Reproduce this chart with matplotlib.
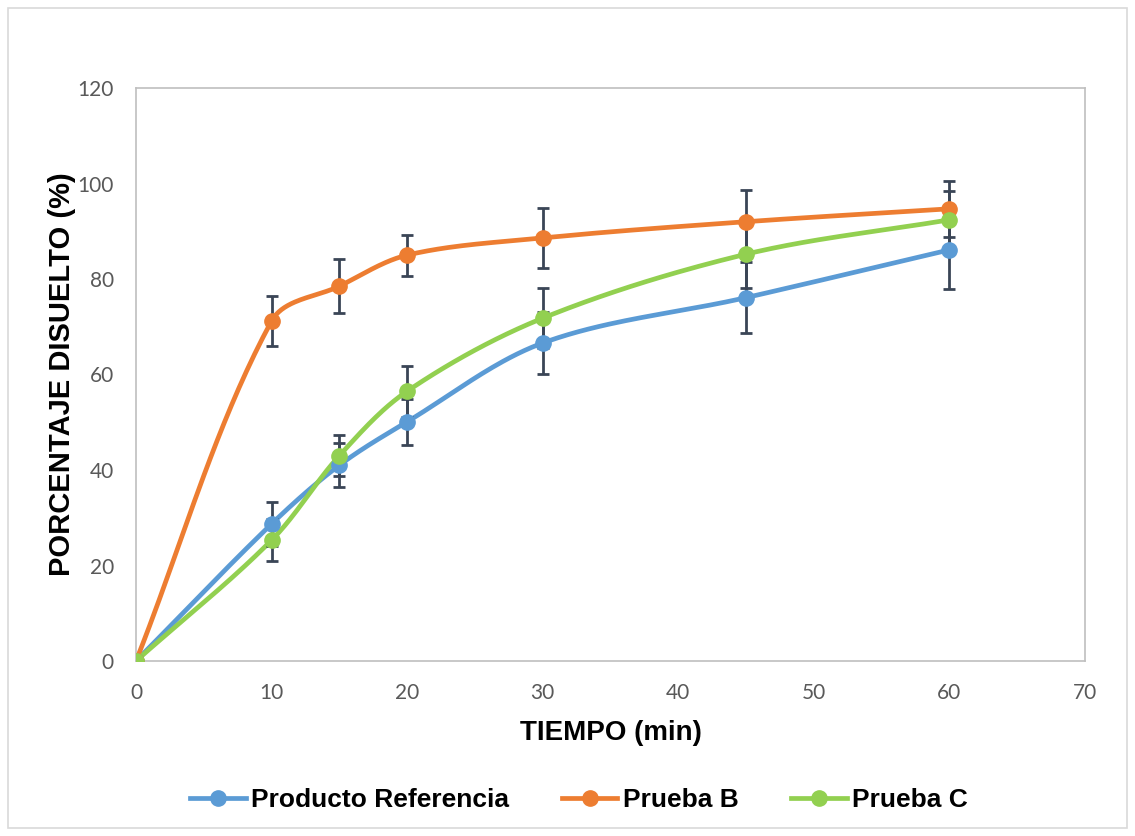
import numpy as np
import matplotlib
matplotlib.use("Agg")
import matplotlib.pyplot as plt
from matplotlib.patches import Rectangle
from matplotlib.lines import Line2D

# ---- data ----
tiempo = [0, 10, 15, 20, 30, 45, 60]
ref = [0, 28.7, 41.0, 50.1, 66.6, 76.1, 86.1]
ref_err = [0, 4.6, 4.6, 4.8, 6.5, 7.5, 8.2]
prueba_b = [0, 71.2, 78.5, 85.0, 88.6, 92.0, 94.7]
prueba_b_err = [0, 5.2, 5.6, 4.3, 6.2, 6.7, 5.9]
prueba_c = [0, 25.3, 43.0, 56.5, 71.8, 85.2, 92.4]
prueba_c_err = [0, 4.4, 4.3, 5.3, 6.3, 7.1, 6.1]
series_names = ["Producto Referencia", "Prueba B", "Prueba C"]
colors = ["#5B9BD5", "#ED7D31", "#92D050"]
xticks = [0, 10, 20, 30, 40, 50, 60, 70]
yticks = [0, 20, 40, 60, 80, 100, 120]

W, H = 1135, 836
fig = plt.figure(figsize=(W / 100, H / 100), dpi=100)
fig.patches.append(Rectangle((8 / W, 1 - 828 / H), (1127 - 8) / W, (828 - 8) / H,
                             transform=fig.transFigure, fill=False,
                             edgecolor="#D9D9D9", linewidth=1.2))

left, right, top, bottom = 136, 1085, 88, 661
ax = fig.add_axes([left / W, 1 - bottom / H, (right - left) / W, (bottom - top) / H])
ax.set_xlim(0, 70)
ax.set_ylim(0, 120)

pw, ph = right - left, bottom - top


def smooth(x, y, n=40, k=0.33):
    # smoothed line (Bezier with tangents scaled by segment length), screen space
    X = np.array(x, float) / 70 * pw
    Y = np.array(y, float) / 120 * ph
    P = np.column_stack([X, Y])
    m = len(P)
    tang = []
    for i in range(m):
        a = P[i - 1] if i > 0 else P[i]
        b = P[i + 1] if i < m - 1 else P[i]
        d = b - a
        tang.append(d / (np.linalg.norm(d) + 1e-9))
    out = [P[0]]
    for i in range(m - 1):
        p1, p2 = P[i], P[i + 1]
        L = np.linalg.norm(p2 - p1)
        c1 = p1 + tang[i] * L * k
        c2 = p2 - tang[i + 1] * L * k
        t = np.linspace(0, 1, n)[1:, None]
        seg = ((1 - t) ** 3) * p1 + 3 * ((1 - t) ** 2) * t * c1 + 3 * (1 - t) * t ** 2 * c2 + t ** 3 * p2
        out.extend(seg)
    out = np.array(out)
    return out[:, 0] / pw * 70, out[:, 1] / ph * 120


data = [(ref, ref_err), (prueba_b, prueba_b_err), (prueba_c, prueba_c_err)]
err_color = "#3A4556"
for (vals, errs), c in zip(data, colors):
    xs, ys = smooth(tiempo, vals)
    ax.plot(xs, ys, color=c, linewidth=3.4, solid_capstyle="round", zorder=3)
for (vals, errs), c in zip(data, colors):
    ax.errorbar(tiempo, vals, yerr=errs, fmt="none", ecolor=err_color,
                elinewidth=2.0, capsize=4.5, capthick=2.0, zorder=4)
for (vals, errs), c in zip(data, colors):
    ax.plot(tiempo, vals, "o", color=c, markersize=11, zorder=5,
            markeredgecolor=c)

for s in ax.spines.values():
    s.set_color("#BFBFBF")
    s.set_linewidth(1.2)
ax.set_xticks(xticks)
ax.set_yticks(yticks)
ax.tick_params(length=0, pad=16, labelsize=15, labelcolor="#595959")
for lbl in ax.get_xticklabels() + ax.get_yticklabels():
    lbl.set_family(["Lato", "DejaVu Sans"])

ax.set_xlabel("TIEMPO (min)", fontsize=20, fontweight="bold",
              family=["Liberation Sans", "DejaVu Sans"], labelpad=12)
ax.set_ylabel("PORCENTAJE DISUELTO (%)", fontsize=21, fontweight="bold",
              family=["Liberation Sans", "DejaVu Sans"], labelpad=1)

handles = [Line2D([0], [0], color=c, linewidth=3.4, marker="o", markersize=11)
           for c in colors]
leg = fig.legend(handles, series_names, loc="center", ncol=3,
                 bbox_to_anchor=(579 / W, 1 - 800 / H), frameon=False,
                 prop={"family": ["Liberation Sans", "DejaVu Sans"],
                       "weight": "bold", "size": 19},
                 handlelength=2.1, handletextpad=0.2, columnspacing=2.0)

fig.savefig("out.png", dpi=100, facecolor="white")
